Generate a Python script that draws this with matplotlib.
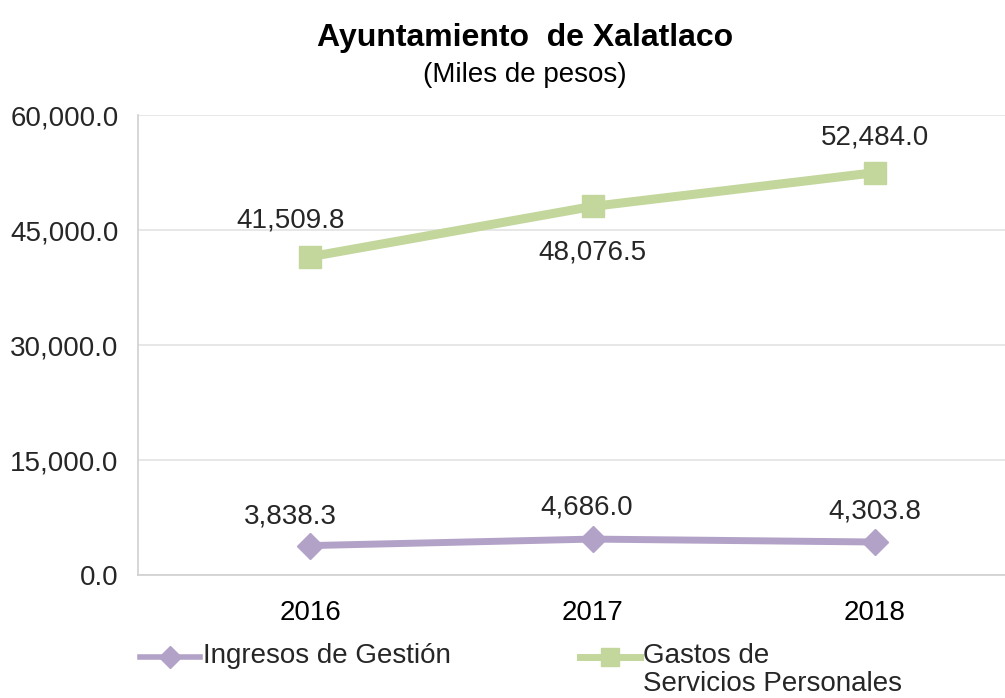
import numpy as np
import matplotlib.pyplot as plt
from matplotlib.lines import Line2D
from matplotlib.ticker import FuncFormatter

plt.rcParams['font.family'] = ['Liberation Sans', 'DejaVu Sans']

# data
years = ['2016', '2017', '2018']
ingresos = [3838.3, 4686.0, 4303.8]
gastos = [41509.8, 48076.5, 52484.0]
yticks = [0, 15000, 30000, 45000, 60000]
series_names = ['Ingresos de Gestión', 'Gastos de\nServicios Personales']

green = '#C3D69B'
purple = '#B3A2C7'
txt = '#262626'

W, H = 1005, 698
fig = plt.figure(figsize=(W / 100, H / 100), dpi=100)
ax = fig.add_axes([0.1373, 0.1762, 0.8627, 0.659])

x = np.arange(len(years))
ax.plot(x, ingresos, color=purple, lw=5, marker='D', markersize=13)
ax.plot(x, gastos, color=green, lw=6.5, marker='s', markersize=16)

# data labels
for i, v in enumerate(ingresos):
    ax.annotate(f'{v:,.1f}', (x[i], v), xytext=[(-14, 21), (-4, 23), (0, 22)][i],
                textcoords='offset points', ha='center', va='center',
                fontsize=20, color=txt)
for i, v in enumerate(gastos):
    ax.annotate(f'{v:,.1f}', (x[i], v), xytext=[(-14, 26), (0, -33), (0, 25)][i],
                textcoords='offset points', ha='center', va='center',
                fontsize=20, color=txt)

ax.set_xlim(-0.609, 2.46)
ax.set_ylim(0, 60000)
ax.set_xticks(x)
ax.set_xticklabels(years, fontsize=20, color='black')
ax.set_yticks(yticks)
ax.yaxis.set_major_formatter(FuncFormatter(lambda v, p: f'{v:,.1f}'))
ax.tick_params(axis='y', length=0, pad=14, labelsize=20, labelcolor=txt)
ax.tick_params(axis='x', length=0, pad=18)
ax.grid(axis='y', color='#E3E3E3', lw=1.2)
ax.set_axisbelow(True)
for s in ['top', 'right']:
    ax.spines[s].set_visible(False)
for s in ['left', 'bottom']:
    ax.spines[s].set_color('#D0D0D0')
    ax.spines[s].set_linewidth(1.2)

fig.text(0.522, 0.946, 'Ayuntamiento  de Xalatlaco', ha='center', va='center',
         fontsize=23, fontweight='bold', color='black')
fig.text(0.522, 0.892, '(Miles de pesos)', ha='center', va='center',
         fontsize=20, color='black')

# legend drawn by hand so the handle sits on the first text line
leg_y = 1 - 657 / H
for x0, name, col, mk, ms, lw in [(140, series_names[0], purple, 'D', 11, 4),
                                  (580, series_names[1], green, 's', 13, 5)]:
    fig.add_artist(Line2D([x0 / W, (x0 + 60) / W], [leg_y, leg_y], color=col, lw=lw,
                          transform=fig.transFigure))
    fig.add_artist(Line2D([(x0 + 30) / W], [leg_y], color=col, marker=mk,
                          markersize=ms, transform=fig.transFigure))
    fig.text((x0 + 63) / W, 1 - 643 / H, name, ha='left', va='top',
             fontsize=20, color=txt, linespacing=1.08)

fig.savefig('out.png', dpi=100)
